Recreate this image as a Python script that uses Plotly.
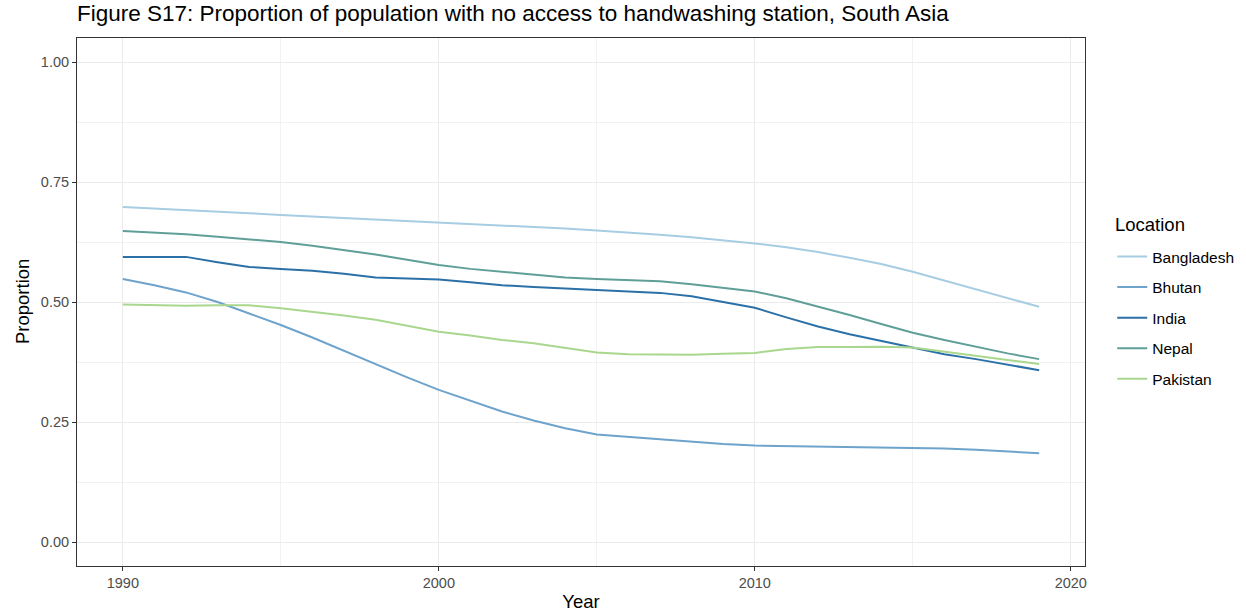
import plotly.graph_objects as go

years = list(range(1990, 2020))

bangladesh = [0.698, 0.695, 0.692, 0.689, 0.685, 0.681, 0.678, 0.675, 0.671, 0.668,
              0.665, 0.662, 0.660, 0.657, 0.653, 0.649, 0.645, 0.640, 0.635, 0.629,
              0.622, 0.614, 0.604, 0.592, 0.579, 0.563, 0.545, 0.527, 0.508, 0.490]
bhutan = [0.548, 0.535, 0.520, 0.500, 0.476, 0.452, 0.426, 0.398, 0.370, 0.343,
          0.317, 0.294, 0.272, 0.253, 0.237, 0.224, 0.219, 0.214, 0.209, 0.204,
          0.201, 0.200, 0.199, 0.198, 0.198, 0.197, 0.195, 0.192, 0.189, 0.185]
india = [0.594, 0.594, 0.594, 0.583, 0.573, 0.569, 0.565, 0.559, 0.551, 0.549,
         0.547, 0.541, 0.535, 0.531, 0.528, 0.525, 0.522, 0.519, 0.512, 0.500,
         0.488, 0.468, 0.449, 0.433, 0.419, 0.406, 0.391, 0.381, 0.370, 0.358]
nepal = [0.648, 0.645, 0.641, 0.636, 0.631, 0.625, 0.617, 0.608, 0.599, 0.588,
         0.577, 0.569, 0.563, 0.557, 0.551, 0.548, 0.546, 0.543, 0.537, 0.530,
         0.522, 0.508, 0.491, 0.473, 0.454, 0.436, 0.421, 0.407, 0.393, 0.381]
pakistan = [0.495, 0.493, 0.492, 0.493, 0.493, 0.487, 0.480, 0.472, 0.463, 0.451,
            0.438, 0.430, 0.421, 0.414, 0.404, 0.395, 0.391, 0.390, 0.390, 0.392,
            0.394, 0.402, 0.406, 0.406, 0.407, 0.405, 0.396, 0.387, 0.379, 0.371]

locations = ["Bangladesh", "Bhutan", "India", "Nepal", "Pakistan"]
series = [bangladesh, bhutan, india, nepal, pakistan]
colors = ["#a6cde2", "#6ea3cc", "#2b71a8", "#5f9f98", "#a9d78e"]

x_ticks = [1990, 2000, 2010, 2020]
y_ticks = [0.0, 0.25, 0.5, 0.75, 1.0]

fig = go.Figure()
for name, vals, col in zip(locations, series, colors):
    fig.add_trace(go.Scatter(
        x=years, y=vals, mode="lines", name=name, legendgroup=name,
        line=dict(color=col, width=2),
    ))

font_family = "Liberation Sans, Arial, sans-serif"
fig.update_layout(
    width=1246, height=615,
    paper_bgcolor="white", plot_bgcolor="white",
    margin=dict(l=77, r=161, t=38, b=49, autoexpand=False),
    font=dict(family=font_family, color="#000000"),
    title=dict(text="Figure S17: Proportion of population with no access to handwashing station, South Asia",
               x=77 / 1246, xref="container", xanchor="left", y=1 - 13.5 / 615, yref="container",
               yanchor="middle", automargin=False,
               font=dict(size=22.5, color="#000000")),
    legend=dict(font=dict(size=15.5), x=1.027, xanchor="left", y=0.6175, yanchor="top",
                traceorder="grouped", tracegroupgap=7.4, bgcolor="rgba(0,0,0,0)"),
    showlegend=True,
    annotations=[
        dict(text="Location", xref="paper", yref="paper", x=1.0278, y=0.6477,
             xanchor="left", yanchor="middle", showarrow=False,
             font=dict(size=18.5, color="#000000")),
        dict(text="Proportion", xref="paper", yref="paper", x=(22 - 77) / 1008, y=0.5,
             xanchor="center", yanchor="middle", textangle=-90, showarrow=False,
             font=dict(size=18.5, color="#000000")),
    ],
)
fig.update_xaxes(
    range=[1988.55, 2020.45], tickvals=x_ticks, ticktext=[str(t) for t in x_ticks],
    automargin=False,
    showgrid=True, gridcolor="#ebebeb", gridwidth=1.2,
    minor=dict(showgrid=True, gridcolor="#f2f2f2", gridwidth=0.8, tickvals=[1995, 2005, 2015]),
    showline=True, mirror=True, linecolor="#333333", linewidth=1,
    ticks="outside", ticklen=4, tickcolor="#333333", tickwidth=1,
    tickfont=dict(size=14.5, color="#4d4d4d"),
    title=dict(text="Year", font=dict(size=18.5), standoff=4),
    zeroline=False,
)
fig.update_yaxes(
    range=[-0.05, 1.05], tickvals=y_ticks, ticktext=["0.00", "0.25", "0.50", "0.75", "1.00"],
    automargin=False,
    showgrid=True, gridcolor="#ebebeb", gridwidth=1.2,
    minor=dict(showgrid=True, gridcolor="#f2f2f2", gridwidth=0.8, tickvals=[0.125, 0.375, 0.625, 0.875]),
    showline=True, mirror=True, linecolor="#333333", linewidth=1,
    ticks="outside", ticklen=4, tickcolor="#333333", tickwidth=1,
    tickfont=dict(size=14.5, color="#4d4d4d"),
    zeroline=False,
)

fig.write_html("out.html", config={"displayModeBar": False},
               post_script="document.body.style.margin='0px';")
